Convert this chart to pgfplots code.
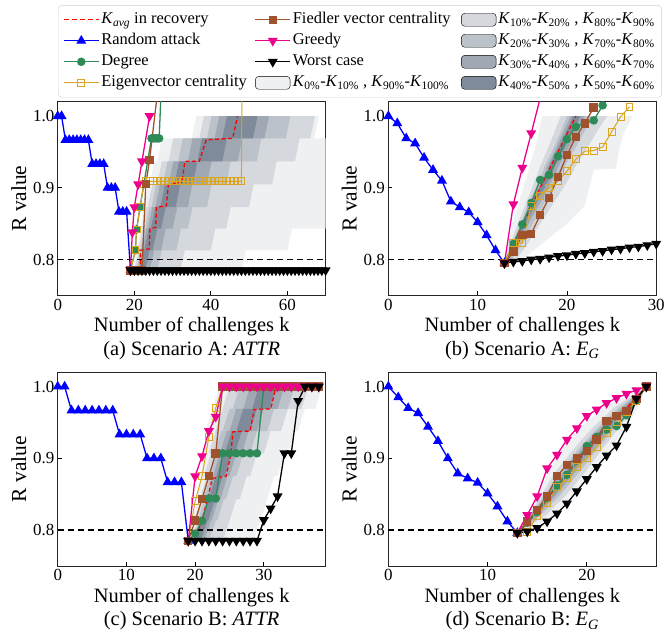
\documentclass[border=0pt]{standalone}
\usepackage{fontspec}
\setmainfont{Liberation Serif}
\usepackage{pgfplots}
\pgfplotsset{compat=1.18}
\usepackage{pgfplotstable}
\usepgfplotslibrary{fillbetween}

\definecolor{cz}{HTML}{EEF0F2}
\definecolor{cone}{HTML}{D5D9DD}
\definecolor{ctwo}{HTML}{BBC2CA}
\definecolor{cthree}{HTML}{A0A9B3}
\definecolor{cfour}{HTML}{7F8B9A}
\definecolor{cgreen}{HTML}{2E8B57}
\definecolor{corange}{HTML}{DAA520}
\definecolor{cbrown}{HTML}{A0522D}

\pgfplotstableread{
R K0 K10 K20 K30 K40 K60 K70 K80 K90 K100
0.785 19.5 20 20.5 21 21.2 22.8 24 26 32 48
0.813 20.7 21.2 21.7 22.2 22.4 24 25.2 27.2 33.2 49.2
0.813 20.5 21 21.5 22 22.6 24.8 27 31 40 60
0.843 21.7 22.2 22.7 23.2 23.8 26 28.2 32.2 41.2 61.2
0.843 21.5 22 22.8 23.5 24.3 27 30 34 44 75
0.873 22.7 23.2 24 24.7 25.5 28.2 31.2 35.2 45.2 75
0.873 22.5 23.5 24.5 25.5 26.8 30.8 34 39 50 75
0.905 23.7 24.7 25.7 26.7 28 32 35.2 40.2 51.2 75
0.905 24 26 27.5 29 30.5 35.3 39 44 56 75
0.937 25.2 27.2 28.7 30.2 31.7 36.5 40.2 45.2 57.2 75
0.937 26 29 31.5 34 36.5 43 47 52 62 75
0.969 27.2 30.2 32.7 35.2 37.7 44.2 48.2 53.2 63.2 75
0.969 35 37 39 41 43 51 54 59.6 66 67
1.0 36.2 38.2 40.2 42.2 44.2 52.2 55.2 60.8 67.2 68.2
}\bandA

\pgfplotstableread{
R K0 K10 K20 K30 K40 K60 K70 K80 K90 K100
0.795 13 13 13 13 13 13 13.2 13.5 14 14.5
0.82 13.4 13.6 13.8 13.9 14 14.3 14.5 14.9 15.5 17
0.85 13.9 14.5 14.8 14.9 15 15.4 15.7 16.2 17 20
0.875 14.5 15.3 15.6 15.8 15.9 16.4 16.8 17.3 18.3 22
0.9 15.1 16.1 16.5 16.8 16.9 17.5 17.9 18.5 19.6 22.5
0.925 15.7 16.9 17.4 17.7 17.9 18.5 18.9 19.6 20.8 23
0.927 15.7 16.9 17.4 17.7 17.9 18.5 18.9 19.6 20.8 25.5
0.95 16.3 17.7 18.3 18.6 18.8 19.5 19.9 20.7 22 25.8
0.975 16.8 18.5 19.2 19.5 19.8 20.5 21 21.8 23.2 26.3
1.0 17.2 19.3 20 20.4 20.7 21.5 22 23 24.5 27.4
}\bandB

\pgfplotstableread{
R K0 K10 K20 K30 K40 K60 K70 K80 K90 K100
0.785 19 19.3 19.6 19.9 20.1 20.8 21.3 22 24 28.5
0.813 20 20.3 20.6 20.9 21.1 21.8 22.3 23 25 29.5
0.813 19.5 20 20.4 20.8 21.1 21.9 22.4 23.2 25 29.5
0.843 20.5 21 21.4 21.8 22.1 22.9 23.4 24.2 26 30.5
0.843 20 20.7 21.2 21.7 22 23 23.7 24.5 26.5 30.5
0.875 21 21.7 22.2 22.7 23 24 24.7 25.5 27.5 31.5
0.875 20.5 21.3 22 22.6 23.1 24.3 25 26 28 32
0.907 21.5 22.3 23 23.6 24.1 25.3 26 27 29 33
0.907 21 22 22.8 23.6 24.3 25.8 26.8 28 30 33.5
0.938 22 23 23.8 24.6 25.3 26.8 27.8 29 31 34.5
0.938 21.5 23 24 25 26 28 29 30.5 32.5 35
0.969 22.5 24 25 26 27 29 30 31.5 33.5 36
0.969 22.5 24 25.5 27 28.3 30.8 32 33.5 35.5 37.5
1.0 23.5 25 26.5 28 29.3 31.8 33 34.5 36.5 38.5
}\bandC

\pgfplotstableread{
R K0 K10 K20 K30 K40 K60 K70 K80 K90 K100
0.796 13 13 13 13 13 13 13 13 13 13.2
0.82 14.1 14.2 14.3 14.4 14.5 14.8 15 15.3 15.8 16.8
0.85 15.2 15.5 15.8 16 16.2 16.7 17 17.4 18 18.8
0.88 16.1 16.8 17.3 17.6 17.9 18.4 18.8 19.2 19.8 20.4
0.91 17.4 18.5 19 19.3 19.6 20.2 20.5 20.9 21.4 22.2
0.94 19.1 20.4 20.9 21.2 21.5 22 22.3 22.7 23.1 23.8
0.97 21.5 22.7 23.2 23.5 23.8 24.2 24.4 24.6 24.8 25.1
1.0 26 26 26 26 26 26 26 26 26 26
}\bandD

\pgfplotsset{
 panel/.style={scale only axis, width=269pt, height=194.5pt, ymin=0.75, ymax=1.02,
  ytick={0.8,0.9,1.0}, tick align=inside, tick pos=left, major tick length=4pt,
  axis line style={black!85, line width=0.8pt}, every tick/.style={black, line width=0.8pt},
  tick label style={font=\fontsize{17}{17}\selectfont},
  /pgf/number format/assume math mode=true,
  yticklabel style={/pgf/number format/fixed, /pgf/number format/fixed zerofill, /pgf/number format/precision=1},
  xlabel style={font=\fontsize{20.5}{24}\selectfont, align=center},
  ylabel style={font=\fontsize{21.5}{24}\selectfont},
  ylabel={R value}, clip=true},
 rnd/.style={blue, line width=1.3pt, mark=triangle*, mark size=4.5pt, mark options={solid}},
 deg/.style={cgreen, line width=1.3pt, mark=*, mark size=3.6pt, mark options={solid}},
 eig/.style={corange, line width=1pt, mark=square, mark size=3.5pt, mark options={solid, fill=none, line width=0.9pt}},
 fie/.style={cbrown, line width=1.3pt, mark=square*, mark size=3.6pt, mark options={solid}},
 gre/.style={magenta, line width=1.3pt, mark=triangle*, mark size=4.5pt, mark options={solid, rotate=180}},
 wor/.style={black, line width=1.3pt, mark=triangle*, mark size=4.5pt, mark options={solid, rotate=180}},
 kav/.style={red, line width=1.3pt, dash pattern=on 4pt off 2.5pt},
 thr/.style={black, line width=1.2pt, dash pattern=on 6pt off 4pt},
 lgkav/.style={legend image code/.code={\draw[draw=red, line width=1.3pt, dash pattern=on 5pt off 3pt] (0pt,0pt) -- (35pt,0pt);}},
 lgrnd/.style={legend image code/.code={\draw[draw=blue, line width=1.3pt, mark=triangle*, mark size=4.5pt, mark options={draw=blue, fill=blue}, mark repeat=2, mark phase=2] plot coordinates {(0pt,0pt) (17.5pt,0pt) (35pt,0pt)};}},
 lgdeg/.style={legend image code/.code={\draw[draw=cgreen, line width=1.3pt, mark=*, mark size=3.6pt, mark options={draw=cgreen, fill=cgreen}, mark repeat=2, mark phase=2] plot coordinates {(0pt,0pt) (17.5pt,0pt) (35pt,0pt)};}},
 lgeig/.style={legend image code/.code={\draw[draw=corange, line width=1pt, mark=square, mark size=3.5pt, mark options={draw=corange, fill=white}, mark repeat=2, mark phase=2] plot coordinates {(0pt,0pt) (17.5pt,0pt) (35pt,0pt)};}},
 lgfie/.style={legend image code/.code={\draw[draw=cbrown, line width=1.3pt, mark=square*, mark size=3.6pt, mark options={draw=cbrown, fill=cbrown}, mark repeat=2, mark phase=2] plot coordinates {(0pt,0pt) (17.5pt,0pt) (35pt,0pt)};}},
 lggre/.style={legend image code/.code={\draw[draw=magenta, line width=1.3pt, mark=triangle*, mark size=4.5pt, mark options={rotate=180, draw=magenta, fill=magenta}, mark repeat=2, mark phase=2] plot coordinates {(0pt,0pt) (17.5pt,0pt) (35pt,0pt)};}},
 lgwor/.style={legend image code/.code={\draw[draw=black, line width=1.3pt, mark=triangle*, mark size=4.5pt, mark options={rotate=180, draw=black, fill=black}, mark repeat=2, mark phase=2] plot coordinates {(0pt,0pt) (17.5pt,0pt) (35pt,0pt)};}},
 lgpz/.style={legend image code/.code={\fill[fill=cz] (0pt,-6.5pt) rectangle (35pt,6.5pt);}},
 lgpone/.style={legend image code/.code={\fill[fill=cone] (0pt,-6.5pt) rectangle (35pt,6.5pt);}},
 lgptwo/.style={legend image code/.code={\fill[fill=ctwo] (0pt,-6.5pt) rectangle (35pt,6.5pt);}},
 lgpthree/.style={legend image code/.code={\fill[fill=cthree] (0pt,-6.5pt) rectangle (35pt,6.5pt);}},
 lgpfour/.style={legend image code/.code={\fill[fill=cfour] (0pt,-6.5pt) rectangle (35pt,6.5pt);}},
}

\newcommand{\bands}[2]{%
 \addplot[draw=none, name path=#1k0, forget plot] table[x=K0,y=R]{#2};
 \addplot[draw=none, name path=#1k10, forget plot] table[x=K10,y=R]{#2};
 \addplot[draw=none, name path=#1k20, forget plot] table[x=K20,y=R]{#2};
 \addplot[draw=none, name path=#1k30, forget plot] table[x=K30,y=R]{#2};
 \addplot[draw=none, name path=#1k40, forget plot] table[x=K40,y=R]{#2};
 \addplot[draw=none, name path=#1k60, forget plot] table[x=K60,y=R]{#2};
 \addplot[draw=none, name path=#1k70, forget plot] table[x=K70,y=R]{#2};
 \addplot[draw=none, name path=#1k80, forget plot] table[x=K80,y=R]{#2};
 \addplot[draw=none, name path=#1k90, forget plot] table[x=K90,y=R]{#2};
 \addplot[draw=none, name path=#1k100, forget plot] table[x=K100,y=R]{#2};
 \addplot[fill=cz, draw=none, forget plot] fill between[of=#1k0 and #1k100];
 \addplot[fill=cone, draw=none, forget plot] fill between[of=#1k10 and #1k90];
 \addplot[fill=ctwo, draw=none, forget plot] fill between[of=#1k20 and #1k80];
 \addplot[fill=cthree, draw=none, forget plot] fill between[of=#1k30 and #1k70];
 \addplot[fill=cfour, draw=none, forget plot] fill between[of=#1k40 and #1k60];
}
\newcommand{\la}[1]{\makebox[149pt][l]{#1}}
\newcommand{\lb}[1]{\makebox[164pt][l]{#1}}
\newcommand{\lc}[1]{\makebox[157pt][l]{#1}}
\newcommand{\K}[1]{\textit{K}\textsubscript{#1}}

\begin{document}
\begin{tikzpicture}

% (a)
\begin{axis}[panel, at={(58pt,-296.7pt)}, anchor=south west, xmin=0, xmax=70, xtick={0,20,40,60},
 xlabel={Number of challenges k\\(a) Scenario A: \textit{ATTR}},
 legend columns=3,
 legend style={at={(0.001,1.499)}, anchor=north west, draw=black!18, rounded corners=3.5pt, fill=white,
  inner xsep=5pt, inner ysep=6pt, row sep=4.1pt, column sep=0pt,
  nodes={inner xsep=2pt, inner ysep=0pt, text height=12.5pt, text depth=4.5pt, anchor=west},
  font=\fontsize{16.5}{19}\selectfont, /tikz/every even column/.append style={column sep=3pt}}]
\addlegendimage{lgkav}\addlegendentry{\la{\K{\textit{avg}} in recovery}}
\addlegendimage{lgfie}\addlegendentry{\lb{Fiedler vector centrality}}
\addlegendimage{lgpone}\addlegendentry{\lc{\K{10\%}-\K{20\%} , \K{80\%}-\K{90\%}}}
\addlegendimage{lgrnd}\addlegendentry{\la{Random attack}}
\addlegendimage{lggre}\addlegendentry{\lb{Greedy}}
\addlegendimage{lgptwo}\addlegendentry{\lc{\K{20\%}-\K{30\%} , \K{70\%}-\K{80\%}}}
\addlegendimage{lgdeg}\addlegendentry{\la{Degree}}
\addlegendimage{lgwor}\addlegendentry{\lb{Worst case}}
\addlegendimage{lgpthree}\addlegendentry{\lc{\K{30\%}-\K{40\%} , \K{60\%}-\K{70\%}}}
\addlegendimage{lgeig}\addlegendentry{\la{Eigenvector centrality}}
\addlegendimage{lgpz}\addlegendentry{\lb{\K{0\%}-\K{10\%} , \K{90\%}-\K{100\%}}}
\addlegendimage{lgpfour}\addlegendentry{\lc{\K{40\%}-\K{50\%} , \K{50\%}-\K{60\%}}}
\bands{a}{\bandA}
\addplot[thr, forget plot] coordinates {(0,0.8) (70,0.8)};
\addplot[kav, forget plot] coordinates {(21.5,0.785)(21.6,0.813)(23.9,0.815)(24.1,0.843)(25.6,0.845)(25.8,0.873)(28.4,0.875)(28.9,0.905)(32.5,0.908)(33.2,0.937)(37,0.937)(38.8,0.967)(45.7,0.969)(47,1.0)};
\addplot[rnd, forget plot] coordinates {(0,1.0)(1,1.0)(2,0.9667)(3,0.9667)(4,0.9667)(5,0.9667)(6,0.9667)(7,0.9667)(8,0.9667)(9,0.9333)(10,0.9333)(11,0.9333)(12,0.9333)(13,0.9)(14,0.9)(15,0.9)(16,0.8667)(17,0.8667)(18,0.8667)(19,0.785)};
\addplot[deg, forget plot] coordinates {(19,0.785)(20.3,0.813)(20.6,0.842)(21.5,0.873)(24.5,0.969)(25,0.969)(25.5,0.969)(26,0.969)(26.5,0.969)(27.5,1.1)};
\addplot[eig, forget plot] coordinates {(19,0.785)(20.3,0.813)(20.6,0.842)(21.5,0.873)(22.5,0.905)(23,0.909)(24,0.909)(25,0.909)(26,0.909)(27,0.909)(28,0.909)(29,0.909)(30,0.909)(31,0.909)(32,0.909)(33,0.909)(34,0.909)(35,0.909)(36,0.909)(37,0.909)(38,0.909)(39,0.909)(40,0.909)(41,0.909)(42,0.909)(43,0.909)(44,0.909)(45,0.909)(46,0.909)(47,0.909)(48,0.909)(48.2,1.1)};
\addplot[fie, forget plot] coordinates {(19,0.785)(20,0.785)(21,0.785)(22,0.785)(23,0.905)(24,0.939)(26,1.03)};
\addplot[gre, forget plot] coordinates {(19,0.785)(19.5,0.838)(20,0.873)(21,0.905)(22,0.937)(24,1.0)};
\addplot[wor, forget plot] coordinates {(19,0.785)(20,0.785)(21,0.785)(22,0.785)(23,0.785)(24,0.785)(25,0.785)(26,0.785)(27,0.785)(28,0.785)(29,0.785)(30,0.785)(31,0.785)(32,0.785)(33,0.785)(34,0.785)(35,0.785)(36,0.785)(37,0.785)(38,0.785)(39,0.785)(40,0.785)(41,0.785)(42,0.785)(43,0.785)(44,0.785)(45,0.785)(46,0.785)(47,0.785)(48,0.785)(49,0.785)(50,0.785)(51,0.785)(52,0.785)(53,0.785)(54,0.785)(55,0.785)(56,0.785)(57,0.785)(58,0.785)(59,0.785)(60,0.785)(61,0.785)(62,0.785)(63,0.785)(64,0.785)(65,0.785)(66,0.785)(67,0.785)(68,0.785)(69,0.785)(70,0.785)};
\end{axis}

% (b)
\begin{axis}[panel, at={(390pt,-296.7pt)}, anchor=south west, xmin=0, xmax=30, xtick={0,10,20,30},
 xlabel={Number of challenges k\\(b) Scenario A: \textit{E}\textsubscript{\textit{G}}}]
\bands{b}{\bandB}
\addplot[thr, forget plot] coordinates {(0,0.8) (30,0.8)};
\addplot[kav, forget plot] coordinates {(13,0.795)(14,0.822)(15,0.848)(16,0.874)(17,0.9)(18,0.925)(19,0.95)(20,0.975)(21,1.0)};
\addplot[rnd, forget plot] coordinates {(0,1.0)(1,0.99)(2,0.969)(3,0.962)(4,0.942)(5,0.925)(6,0.91)(7,0.881)(8,0.873)(9,0.866)(10,0.852)(11,0.834)(12,0.813)(13,0.795)};
\addplot[deg, forget plot] coordinates {(13,0.795)(14,0.822)(15,0.849)(16,0.879)(17,0.911)(18,0.918)(19,0.944)(20,0.968)(21,0.985)(22,0.99)(23,0.994)(24,1.015)};
\addplot[eig, forget plot] coordinates {(13,0.795)(14,0.823)(15,0.823)(16,0.875)(17,0.889)(18,0.9)(19,0.91)(20,0.923)(21,0.94)(22,0.951)(23,0.952)(24,0.957)(25,0.978)(26,0.999)(27,1.013)};
\addplot[fie, forget plot] coordinates {(13,0.795)(14,0.811)(15,0.834)(16,0.836)(17,0.862)(18,0.886)(19,0.915)(20,0.946)(21,0.971)(22,0.99)(23,1.012)};
\addplot[gre, forget plot] coordinates {(13,0.795)(14,0.877)(15,0.928)(16,0.976)(17,1.025)};
\addplot[wor, forget plot] coordinates {(13,0.795)(14,0.797)(15,0.798)(16,0.8)(17,0.801)(18,0.803)(19,0.805)(20,0.806)(21,0.808)(22,0.809)(23,0.811)(24,0.812)(25,0.814)(26,0.815)(27,0.817)(28,0.818)(29,0.82)(30,0.822)};
\end{axis}

% (c)
\begin{axis}[panel, at={(58pt,-568.3pt)}, anchor=south west, xmin=0, xmax=39, xtick={0,10,20,30},
 xlabel={Number of challenges k\\(c) Scenario B: \textit{ATTR}}]
\bands{c}{\bandC}
\addplot[thr, forget plot] coordinates {(0,0.8) (39,0.8)};
\addplot[kav, forget plot] coordinates {(19.8,0.785)(21,0.813)(21.8,0.843)(22.5,0.872)(24.5,0.875)(25.2,0.905)(25.5,0.937)(28,0.938)(28.6,0.968)(31,0.969)(31.8,1.0)};
\addplot[rnd, forget plot] coordinates {(0,1.0)(1,1.0)(2,0.9667)(3,0.9667)(4,0.9667)(5,0.9667)(6,0.9667)(7,0.9667)(8,0.9667)(9,0.9333)(10,0.9333)(11,0.9333)(12,0.9333)(13,0.9)(14,0.9)(15,0.9)(16,0.8667)(17,0.8667)(18,0.8667)(19,0.785)};
\addplot[deg, forget plot] coordinates {(19,0.785)(20,0.795)(21,0.813)(22,0.844)(23,0.844)(24,0.907)(25,0.907)(26,0.907)(27,0.907)(28,0.907)(29,0.907)(30,1.0)(31,1.0)(32,1.0)(33,1.0)(34,1.0)(35,1.0)(36,1.0)(37,1.0)(38,1.0)};
\addplot[eig, forget plot] coordinates {(19,0.785)(20,0.84)(21,0.875)(22,0.93)(23,0.97)(24,1.0)(25,1.0)(26,1.0)(27,1.0)(28,1.0)(29,1.0)(30,1.0)(31,1.0)(32,1.0)(33,1.0)(34,1.0)(35,1.0)(36,1.0)(37,1.0)(38,1.0)};
\addplot[fie, forget plot] coordinates {(19,0.785)(20,0.813)(21,0.843)(22,0.875)(23,0.907)(24,1.0)(25,1.0)(26,1.0)(27,1.0)(28,1.0)(29,1.0)(30,1.0)(31,1.0)(32,1.0)(33,1.0)(34,1.0)(35,1.0)(36,1.0)(37,1.0)(38,1.0)};
\addplot[gre, forget plot] coordinates {(19,0.785)(20,0.875)(21,0.903)(22,0.938)(23,0.958)(24,1.0)(25,1.0)(26,1.0)(27,1.0)(28,1.0)(29,1.0)(30,1.0)(31,1.0)(32,1.0)(33,1.0)(34,1.0)(35,1.0)(36,1.0)(37,1.0)(38,1.0)};
\addplot[wor, forget plot] coordinates {(19,0.785)(20,0.785)(21,0.785)(22,0.785)(23,0.785)(24,0.785)(25,0.785)(26,0.785)(27,0.785)(28,0.785)(29,0.785)(30,0.814)(31,0.83)(32,0.847)(33,0.907)(34,0.907)(35,0.98)(36,1.0)(37,1.0)(38,1.0)};
\end{axis}

% (d)
\begin{axis}[panel, at={(390pt,-568.3pt)}, anchor=south west, xmin=0, xmax=27, xtick={0,10,20},
 xlabel={Number of challenges k\\(d) Scenario B: \textit{E}\textsubscript{\textit{G}}}]
\bands{d}{\bandD}
\addplot[thr, forget plot] coordinates {(0,0.8) (27,0.8)};
\addplot[kav, forget plot] coordinates {(13,0.796)(14,0.81)(15,0.826)(16,0.843)(17,0.86)(18,0.878)(19,0.895)(20,0.912)(21,0.93)(22,0.945)(23,0.958)(24,0.97)(25,0.985)(26,1.0)};
\addplot[rnd, forget plot] coordinates {(0,1.0)(1,0.985)(2,0.97)(3,0.963)(4,0.944)(5,0.924)(6,0.9)(7,0.879)(8,0.872)(9,0.866)(10,0.851)(11,0.833)(12,0.812)(13,0.796)};
\addplot[deg, forget plot] coordinates {(13,0.796)(14,0.81)(15,0.825)(16,0.845)(17,0.862)(18,0.877)(19,0.897)(20,0.917)(21,0.93)(22,0.94)(23,0.945)(24,0.96)(25,0.98)(26,1.0)};
\addplot[eig, forget plot] coordinates {(13,0.796)(14,0.797)(15,0.82)(16,0.838)(17,0.86)(18,0.872)(19,0.888)(20,0.9)(21,0.916)(22,0.935)(23,0.95)(24,0.965)(25,0.98)(26,1.0)};
\addplot[fie, forget plot] coordinates {(13,0.796)(14,0.812)(15,0.828)(16,0.847)(17,0.875)(18,0.891)(19,0.9)(20,0.91)(21,0.926)(22,0.952)(23,0.959)(24,0.966)(25,0.983)(26,1.0)};
\addplot[gre, forget plot] coordinates {(13,0.796)(14,0.821)(15,0.847)(16,0.886)(17,0.905)(18,0.926)(19,0.942)(20,0.959)(21,0.968)(22,0.977)(23,0.984)(24,0.99)(25,0.995)(26,1.0)};
\addplot[wor, forget plot] coordinates {(13,0.796)(14,0.798)(15,0.803)(16,0.812)(17,0.823)(18,0.837)(19,0.854)(20,0.871)(21,0.888)(22,0.904)(23,0.918)(24,0.944)(25,0.983)(26,1.0)};
\end{axis}
\path (0pt,0pt) rectangle (668pt,-639pt);
\end{tikzpicture}
\end{document}
